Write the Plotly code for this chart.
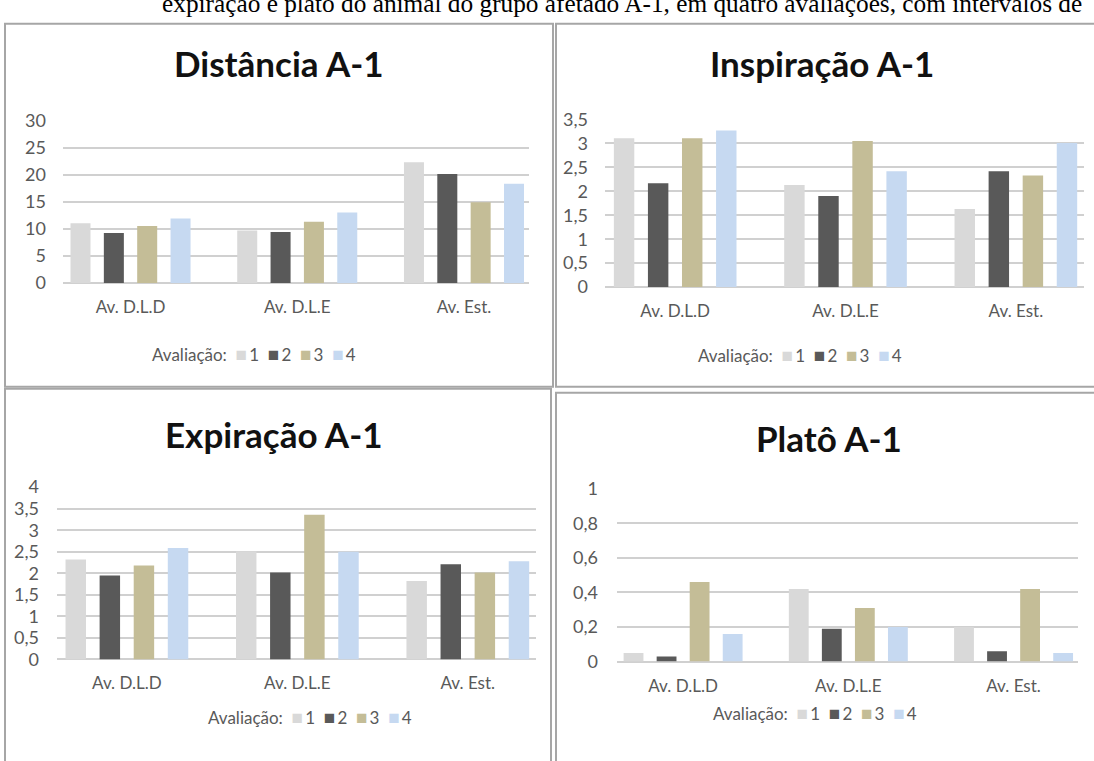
import plotly.graph_objects as go

W, H = 1094, 761

# ---- data -------------------------------------------------------------
categories = ["Av. D.L.D", "Av. D.L.E", "Av. Est."]
series_names = ["1", "2", "3", "4"]
series_colors = ["#d9d9d9", "#595959", "#c4bd97", "#c6d9f1"]

distancia = [
    [11.0, 9.7, 22.3],   # avaliação 1
    [9.2, 9.4, 20.1],    # avaliação 2
    [10.5, 11.3, 14.9],  # avaliação 3
    [11.9, 13.0, 18.3],  # avaliação 4
]
inspiracao = [
    [3.11, 2.13, 1.63],
    [2.17, 1.90, 2.42],
    [3.11, 3.05, 2.33],
    [3.27, 2.42, 3.01],
]
expiracao = [
    [2.32, 2.51, 1.82],
    [1.95, 2.02, 2.21],
    [2.18, 3.36, 2.02],
    [2.59, 2.50, 2.28],
]
plato = [
    [0.05, 0.42, 0.20],
    [0.03, 0.19, 0.06],
    [0.46, 0.31, 0.42],
    [0.16, 0.20, 0.05],
]

dist_ticks = [0, 5, 10, 15, 20, 25, 30]
dist_ticktext = ["0", "5", "10", "15", "20", "25", "30"]
insp_ticks = [0, 0.5, 1, 1.5, 2, 2.5, 3, 3.5]
insp_ticktext = ["0", "0,5", "1", "1,5", "2", "2,5", "3", "3,5"]
exp_ticks = [0, 0.5, 1, 1.5, 2, 2.5, 3, 3.5, 4]
exp_ticktext = ["0", "0,5", "1", "1,5", "2", "2,5", "3", "3,5", "4"]
plato_ticks = [0, 0.2, 0.4, 0.6, 0.8, 1]
plato_ticktext = ["0", "0,2", "0,4", "0,6", "0,8", "1"]

titles = ["Distância A-1", "Inspiração A-1", "Expiração A-1", "Platô A-1"]
caption = ("expiração e platô do animal do grupo afetado A-1, em quatro "
           "avaliações, com intervalos de")

# ---- panel geometry (pixels) --------------------------------------------
panels = [
    dict(data=distancia, ticks=dist_ticks, text=dist_ticktext, ymax=30,
         x0=63, x1=529, ybot=279, ytop=111.7, xr=[-0.405, 2.39],
         title_xy=(279, 53), legend_xy=(254, 352), stand=16),
    dict(data=inspiracao, ticks=insp_ticks, text=insp_ticktext, ymax=3.5,
         x0=605, x1=1084, ybot=283.3, ytop=110.7, xr=[-0.412, 2.40],
         title_xy=(822, 53), legend_xy=(800, 353), stand=16),
    dict(data=expiracao, ticks=exp_ticks, text=exp_ticktext, ymax=4,
         x0=57, x1=536, ybot=666.7, ytop=489.3, xr=[-0.41, 2.40],
         title_xy=(274, 435), legend_xy=(310, 725), stand=17),
    dict(data=plato, ticks=plato_ticks, text=plato_ticktext, ymax=1,
         x0=617, x1=1078, ybot=668.9, ytop=491, xr=[-0.40, 2.39],
         title_xy=(829, 439), legend_xy=(815, 721), stand=18),
]

FONT = "Lato"
TICK_COLOR = "#595959"
SP = "&#160;"

fig = go.Figure()
layout = dict(
    width=W, height=H,
    margin=dict(l=0, r=0, t=0, b=0),
    paper_bgcolor="white", plot_bgcolor="white",
    barmode="group", bargap=0.2, bargroupgap=0.4,
    showlegend=False,
    font=dict(family=FONT, color=TICK_COLOR),
)

annotations = []
for i, p in enumerate(panels):
    n = "" if i == 0 else str(i + 1)
    xa, ya = "x" + n, "y" + n
    for s, (name, color) in enumerate(zip(series_names, series_colors)):
        fig.add_trace(go.Bar(
            x=categories, y=p["data"][s], name=name,
            marker=dict(color=color, line=dict(width=0)),
            xaxis=xa, yaxis=ya,
        ))
    layout["xaxis" + n] = dict(
        domain=[p["x0"] / W, p["x1"] / W], anchor=ya,
        type="category", range=p["xr"],
        showgrid=False, showline=False, ticks="", zeroline=False,
        tickfont=dict(family=FONT, size=17, color=TICK_COLOR),
        ticklabelstandoff=12,
    )
    layout["yaxis" + n] = dict(
        domain=[1 - p["ybot"] / H, 1 - p["ytop"] / H], anchor=xa,
        range=[0, p["ymax"]], tickvals=p["ticks"], ticktext=p["text"],
        showgrid=True, gridcolor="#d0d0d0", gridwidth=2,
        zeroline=True, zerolinecolor="#d0d0d0", zerolinewidth=2,
        showline=False, ticks="",
        tickfont=dict(family=FONT, size=18, color=TICK_COLOR),
        ticklabelstandoff=p["stand"],
    )
    tx, ty = p["title_xy"]
    annotations.append(dict(
        text=titles[i], x=tx / W, y=1 - ty / H, xref="paper", yref="paper",
        showarrow=False, xanchor="center", yanchor="middle",
        font=dict(family=FONT, size=35, color="#111111", weight="bold"),
    ))
    swatches = (SP * 2).join(
        f"<span style='color:{c};font-size:19px'>■</span>&#8201;{nm}"
        for nm, c in zip(series_names, series_colors)
    )
    lx, ly = p["legend_xy"]
    annotations.append(dict(
        text="Avaliação:" + SP * 2 + swatches, x=lx / W, y=1 - ly / H,
        xref="paper", yref="paper", showarrow=False,
        xanchor="center", yanchor="middle",
        font=dict(family=FONT, size=17, color=TICK_COLOR),
    ))

annotations.append(dict(
    text=caption, x=160 / W, y=1 + 9 / H, xref="paper", yref="paper",
    showarrow=False, xanchor="left", yanchor="middle",
    font=dict(family="Liberation Serif", size=25.3, color="#000000"),
))
layout["annotations"] = annotations

# panel frames
frames = [(5, 12, 553, 386), (556, 12, 1100, 386),
          (5, 388, 551, 775), (556, 392, 1100, 775)]
layout["shapes"] = [
    dict(type="rect", xref="paper", yref="paper",
         x0=a / W, x1=c / W, y0=1 - d / H, y1=1 - b / H,
         line=dict(color="#a6a6a6", width=2), layer="below")
    for a, b, c, d in frames
]

fig.update_layout(**layout)
fig.write_html("out.html")
